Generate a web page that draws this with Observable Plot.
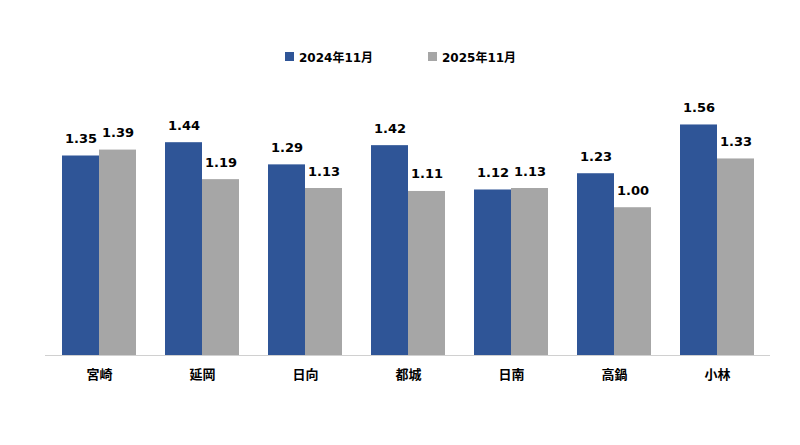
<!DOCTYPE html>
<html><head><meta charset="utf-8">
<script src="https://cdn.jsdelivr.net/npm/d3@7"></script>
<script src="https://cdn.jsdelivr.net/npm/@observablehq/plot@0.6"></script>
<style>
body{margin:0;background:#fff;font-family:"DejaVu Sans","Noto Sans CJK JP",sans-serif;}
#wrap{position:relative;width:800px;height:445px;}
#legend{position:absolute;top:0;left:0;width:800px;height:75px;}
.item{position:absolute;top:48px;display:flex;align-items:center;font-weight:bold;font-size:12px;color:#000;font-family:"DejaVu Sans","Noto Sans CJK JP",sans-serif;}
.sw{width:9px;height:9px;margin-right:5px;}
#chart{position:absolute;top:75px;left:0;}
</style></head>
<body>
<div id="wrap">
<div id="legend"></div>
<div id="chart"></div>
</div>
<script>
const regions = ["宮崎","延岡","日向","都城","日南","高鍋","小林"];
const series = ["2024年11月","2025年11月"];
const v2024 = [1.35,1.44,1.29,1.42,1.12,1.23,1.56];
const v2025 = [1.39,1.19,1.13,1.11,1.13,1.00,1.33];
const colors = ["#2F5597","#A6A6A6"];

const d24 = regions.map((r,i)=>({region:r, series:series[0], value:v2024[i]}));
const d25 = regions.map((r,i)=>({region:r, series:series[1], value:v2025[i]}));

const legend = document.getElementById("legend");
const lefts = [285, 428];
series.forEach((s,i)=>{
  const it = document.createElement("div");
  it.className="item"; it.style.left=lefts[i]+"px";
  it.innerHTML = `<div class="sw" style="background:${colors[i]}"></div><span>${s}</span>`;
  legend.appendChild(it);
});

const half = 37;
const chart = Plot.plot({
  width:800, height:370,
  marginLeft:45, marginRight:30, marginTop:14, marginBottom:90,
  style:{fontFamily:'"DejaVu Sans","Noto Sans CJK JP",sans-serif', fontSize:"13px", color:"#000", background:"#fff"},
  x:{domain:regions, paddingInner:0.286, paddingOuter:0.143, label:null, tickSize:0, tickPadding:14},
  y:{domain:[0,1.8], axis:null},
  marks:[
    Plot.barY(d24,{x:"region", y:"value", fill:colors[0], insetRight:half}),
    Plot.barY(d25,{x:"region", y:"value", fill:colors[1], insetLeft:half}),
    Plot.text(d24,{x:"region", y:"value", text:d=>d.value.toFixed(2), dx:-half/2, dy:-13, lineAnchor:"bottom", fontWeight:"bold", fontSize:13, fill:"#000"}),
    Plot.text(d25,{x:"region", y:"value", text:d=>d.value.toFixed(2), dx:half/2, dy:-13, lineAnchor:"bottom", fontWeight:"bold", fontSize:13, fill:"#000"}),
    Plot.ruleY([0],{stroke:"#D0D0D0", strokeWidth:1})
  ]
});
const xl = chart.querySelector('g[aria-label="x-axis tick label"]');
if (xl) xl.setAttribute("font-weight","bold");
document.getElementById("chart").appendChild(chart);
</script>
</body></html>
